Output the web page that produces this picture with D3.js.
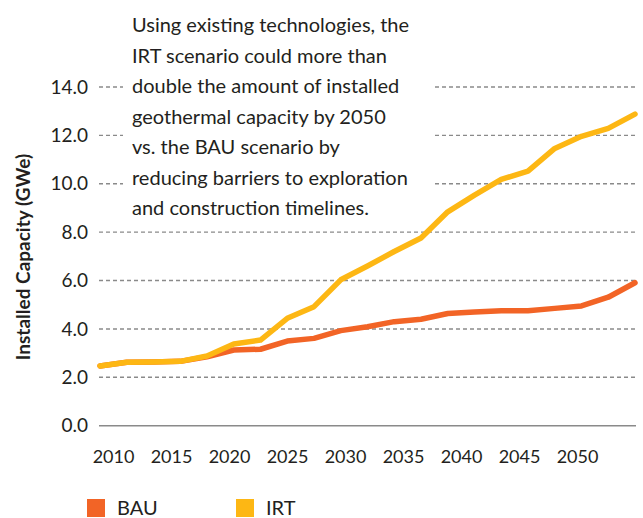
<!DOCTYPE html>
<html>
<head>
<meta charset="utf-8">
<script src="https://cdn.jsdelivr.net/npm/d3@7"></script>
<style>
  body { margin: 0; background: #fff; }
  svg { font-family: Lato, "Open Sans", sans-serif; }
</style>
</head>
<body>
<div id="chart"></div>
<script>
// data
var years = [2010, 2012, 2014, 2016, 2018, 2020, 2022, 2024, 2026, 2028, 2030,
             2032, 2034, 2036, 2038, 2040, 2042, 2044, 2046, 2048, 2050];
var bau = [2.47, 2.62, 2.63, 2.66, 2.85, 3.13, 3.16, 3.50, 3.61, 3.93, 4.09,
           4.30, 4.40, 4.64, 4.70, 4.75, 4.75, 4.85, 4.95, 5.31, 5.91];
var irt = [2.47, 2.62, 2.63, 2.66, 2.88, 3.38, 3.54, 4.44, 4.92, 6.03, 6.60,
           7.20, 7.76, 8.84, 9.53, 10.18, 10.52, 11.46, 11.96, 12.29, 12.88];
var xLabels = ["2010", "2015", "2020", "2025", "2030", "2035", "2040", "2045", "2050"];
var yTicks = [0, 2, 4, 6, 8, 10, 12, 14];
var seriesNames = ["BAU", "IRT"];
var note = [
  "Using existing technologies, the",
  "IRT scenario could more than",
  "double the amount of installed",
  "geothermal capacity by 2050",
  "vs. the BAU scenario by",
  "reducing barriers to exploration",
  "and construction timelines."
];

var colors = { BAU: "#f26426", IRT: "#fdb714" };

var width = 643, height = 518;

var svg = d3.select("#chart").append("svg")
    .attr("width", width)
    .attr("height", height);

var x = d3.scaleLinear().domain([2010, 2050]).range([100, 635]);
var xl = d3.scalePoint().domain(xLabels).range([113, 577]);
var y = d3.scaleLinear().domain([0, 14]).range([425.7, 87]);

// grid lines
svg.append("g")
    .selectAll("line")
    .data(yTicks.filter(function(d) { return d > 0; }))
  .enter().append("line")
    .attr("x1", 99).attr("x2", 636)
    .attr("y1", function(d) { return y(d); })
    .attr("y2", function(d) { return y(d); })
    .style("stroke", "#8a8a8a")
    .style("stroke-width", 1.4)
    .style("stroke-dasharray", "4,3");

// zero line
svg.append("line")
    .attr("x1", 99).attr("x2", 636)
    .attr("y1", y(0)).attr("y2", y(0))
    .style("stroke", "#8a8a8a")
    .style("stroke-width", 1.6);

// annotation's white box sits over the grid, under the lines
svg.append("rect")
    .attr("x", 123).attr("y", 0)
    .attr("width", 310).attr("height", 220)
    .style("fill", "#fff");

// y axis labels
var yAxis = svg.append("g")
    .attr("transform", "translate(88,0)")
    .call(d3.axisLeft(y).tickValues(yTicks).tickFormat(d3.format(".1f")).tickSize(0).tickPadding(0));
yAxis.select(".domain").remove();
yAxis.selectAll("text")
    .style("font-family", "Lato, sans-serif")
    .style("font-size", "19px")
    .style("fill", "#231f20");

// x axis labels
var xAxis = svg.append("g")
    .attr("transform", "translate(0,446)")
    .call(d3.axisBottom(xl).tickSize(0).tickPadding(4));
xAxis.select(".domain").remove();
xAxis.selectAll("text")
    .style("font-family", "Lato, sans-serif")
    .style("font-size", "18px")
    .style("fill", "#231f20");

// y title
svg.append("text")
    .attr("transform", "translate(30,257) rotate(-90)")
    .attr("text-anchor", "middle")
    .style("font-size", "19px")
    .style("font-weight", "bold")
    .style("fill", "#231f20")
    .text("Installed Capacity (GWe)");

// lines
var line = d3.line()
    .x(function(d, i) { return x(years[i]); })
    .y(function(d) { return y(d); });

svg.append("path")
    .datum(bau)
    .attr("d", line)
    .style("fill", "none")
    .style("stroke", colors.BAU)
    .style("stroke-width", 5.5)
    .style("stroke-linejoin", "round")
    .style("stroke-linecap", "round");

svg.append("path")
    .datum(irt)
    .attr("d", line)
    .style("fill", "none")
    .style("stroke", colors.IRT)
    .style("stroke-width", 5.5)
    .style("stroke-linejoin", "round")
    .style("stroke-linecap", "round");

svg.append("g")
    .selectAll("text")
    .data(note)
  .enter().append("text")
    .attr("x", 132)
    .attr("y", function(d, i) { return 32 + i * 30.5; })
    .style("font-size", "20px")
    .style("fill", "#231f20")
    .text(function(d) { return d; });

// legend
var legend = svg.append("g")
    .selectAll("g")
    .data(seriesNames)
  .enter().append("g")
    .attr("transform", function(d, i) { return "translate(" + (87 + i * 149) + ",499)"; });

legend.append("rect")
    .attr("width", 18).attr("height", 18)
    .style("fill", function(d) { return colors[d]; });

legend.append("text")
    .attr("x", 30)
    .attr("y", 16)
    .style("font-size", "20px")
    .style("fill", "#231f20")
    .text(function(d) { return d; });
</script>
</body>
</html>
